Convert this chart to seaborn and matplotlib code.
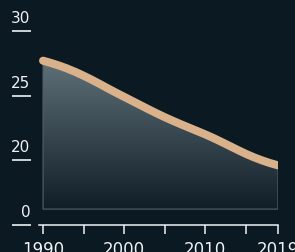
import numpy as np
import pandas as pd
import matplotlib
matplotlib.use("Agg")
import matplotlib.pyplot as plt
from matplotlib.colors import LinearSegmentedColormap
import seaborn as sns

# ---- data ----
years = list(range(1990, 2020))
values = [27.70, 27.52, 27.32, 27.09, 26.83, 26.54, 26.23, 25.90, 25.56, 25.23,
          24.91, 24.59, 24.27, 23.95, 23.64, 23.34, 23.06, 22.79, 22.53, 22.27,
          22.01, 21.73, 21.43, 21.12, 20.81, 20.51, 20.24, 20.00, 19.79, 19.61]
x_ticks = [1990, 1995, 2000, 2005, 2010, 2015, 2019]
x_labels = ["1990", "", "2000", "", "2010", "", "2019"]
y_ticks = [15, 20, 25, 30]
y_labels = ["0", "20", "25", "30"]
fill_base = 16.23

BG = "#0a1922"
LINE = "#d9b28c"
TXT = "#eef2f4"

sns.set_theme(style="dark")
plt.rcParams["font.family"] = ["DejaVu Sans"]

df = pd.DataFrame({"year": years, "value": values})

fig = plt.figure(figsize=(2.95, 2.52), dpi=100, facecolor=BG)
ax = fig.add_axes([39 / 295, 27 / 252, (278 - 39) / 295, (225 - 18) / 252])
ax.set_facecolor(BG)

# gradient area
poly = ax.fill_between(df["year"], df["value"], fill_base, facecolor="none",
                       edgecolor="#53636c", linewidth=0.8, zorder=2)
cmap = LinearSegmentedColormap.from_list("g", ["#101e27", "#5f7079"])
grad = np.linspace(0, 1, 256).reshape(-1, 1)
im = ax.imshow(grad, cmap=cmap, aspect="auto", origin="lower",
               extent=[years[0], years[-1], fill_base, max(values)], zorder=1)
im.set_clip_path(poly.get_paths()[0], transform=ax.transData)

sns.lineplot(data=df, x="year", y="value", ax=ax, color=LINE, linewidth=5.8,
             solid_capstyle="round", solid_joinstyle="round", zorder=3)

ax.set_xlim(1989.5, 2019)
ax.set_ylim(15, 31)
ax.set_xlabel("")
ax.set_ylabel("")

# x axis
ax.set_xticks(x_ticks)
ax.set_xticklabels(x_labels)
ax.tick_params(axis="x", direction="out", length=6.5, width=1.1, color=TXT,
               labelcolor=TXT, labelsize=12, pad=5, bottom=True)
for s in ["top", "right"]:
    ax.spines[s].set_visible(False)
ax.spines["bottom"].set_color(TXT)
ax.spines["bottom"].set_linewidth(1.1)

# y axis: underline ticks with labels above
ax.spines["left"].set_position(("outward", 5.8))
ax.spines["left"].set_visible(False)
ax.set_yticks(y_ticks)
ax.set_yticklabels([])
ax.tick_params(axis="y", direction="out", length=13.7, width=1.2, color=TXT,
               left=True)
ytr = ax.get_yaxis_transform()
for v, lab in zip(y_ticks, y_labels):
    ax.annotate(lab, xy=(0, v), xycoords=ytr, xytext=(-6.3, 3.5),
                textcoords="offset points", ha="right", va="bottom",
                color=TXT, fontsize=11, annotation_clip=False)

ax.grid(False)
fig.savefig("out.png", dpi=100, facecolor=BG)
